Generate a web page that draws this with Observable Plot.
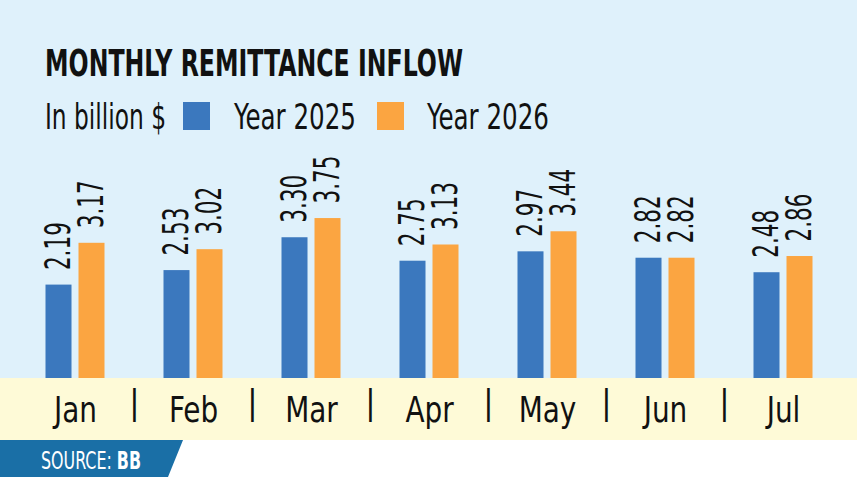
<!DOCTYPE html>
<html><head><meta charset="utf-8">
<script src="https://cdn.jsdelivr.net/npm/d3@7"></script>
<script src="https://cdn.jsdelivr.net/npm/@observablehq/plot@0.6"></script>
<style>
html,body{margin:0;padding:0;background:#fff;}
#page{position:relative;width:857px;height:482px;overflow:hidden;font-family:"Liberation Sans Narrow","DejaVu Sans Condensed","Liberation Sans",sans-serif;color:#111;}
.bg-blue{position:absolute;left:0;top:0;width:857px;height:378px;background:#dff1fb;}
.bg-cream{position:absolute;left:0;top:378px;width:857px;height:62px;background:#fefad7;}
.t{position:absolute;white-space:nowrap;line-height:1;transform-origin:0 50%;}
#title{left:45px;top:45px;font-size:37px;font-weight:bold;}
.leg{font-size:36px;top:98.5px;}
.sw{position:absolute;width:27px;height:28px;top:102px;}
#chart{position:absolute;left:0;top:140px;}
#src{position:absolute;left:0;top:440px;width:183px;height:37px;background:#1a6fa6;clip-path:polygon(0 0,183px 0,168px 37px,0 37px);}
#srctext{color:#fff;font-size:24px;left:41px;top:448.7px;}
</style>
</head>
<body>
<div id="page">
  <div class="bg-blue"></div>
  <div class="bg-cream"></div>
  <div id="title" class="t">MONTHLY REMITTANCE INFLOW</div>
  <div id="unit" class="t leg" style="left:45px">In billion $</div>
  <div id="sw0" class="sw" style="left:183px"></div>
  <div id="leg0" class="t leg" style="left:234px"></div>
  <div id="sw1" class="sw" style="left:377px"></div>
  <div id="leg1" class="t leg" style="left:427px"></div>
  <div id="chart"></div>
  <div id="src"></div>
  <div id="srctext" class="t">SOURCE: <b>BB</b></div>
</div>
<script>
const months = ["Jan","Feb","Mar","Apr","May","Jun","Jul"];
const years = ["Year 2025","Year 2026"];
const values2025 = [2.19,2.53,3.30,2.75,2.97,2.82,2.48];
const values2026 = [3.17,3.02,3.75,3.13,3.44,2.82,2.86];
const colors = ["#3b78be","#fba541"];

const data = months.flatMap((m, i) => [
  {month: m, year: years[0], value: values2025[i]},
  {month: m, year: years[1], value: values2026[i]}
]);

document.getElementById("leg0").textContent = years[0];
document.getElementById("leg1").textContent = years[1];
document.getElementById("sw0").style.background = colors[0];
document.getElementById("sw1").style.background = colors[1];

const font = '"Liberation Sans Narrow","DejaVu Sans Condensed","Liberation Sans",sans-serif';

const chart = Plot.plot({
  width: 857,
  height: 300,
  marginTop: 0,
  marginBottom: 62,
  marginLeft: 15.5,
  marginRight: 15.5,
  style: {background: "transparent", fontFamily: font, color: "#111"},
  fx: {domain: months, padding: 0},
  x: {domain: years, paddingInner: 0.2, paddingOuter: 0.84, axis: null},
  y: {domain: [0, 5.58], axis: null},
  color: {domain: years, range: colors},
  marks: [
    Plot.barY(data, {fx: "month", x: "year", y: "value", fill: "year"}),
    Plot.text(data, {fx: "month", x: "year", y: "value", text: d => d.value.toFixed(2),
      rotate: -90, textAnchor: "start", lineAnchor: "middle", dy: -15, fontSize: 35, fill: "#111"}),
    Plot.axisFx({anchor: "bottom", tickSize: 0, tickPadding: 18, fontSize: 36, label: null, fill: "#111"}),
    Plot.text(months.slice(0, -1), {fx: d => d, frameAnchor: "bottom-right", text: () => "|",
      textAnchor: "middle", lineAnchor: "middle", dy: 25, fontSize: 34, fill: "#111"})
  ]
});
document.getElementById("chart").appendChild(chart);

// horizontal condensing to mimic the narrow typeface of the reference
function fit(id, w) {
  const el = document.getElementById(id);
  const r = el.getBoundingClientRect().width;
  el.style.transform = `scaleX(${w / r})`;
}
fit("title", 418);
fit("unit", 121);
fit("leg0", 122);
fit("leg1", 122);
fit("srctext", 100);

const vals = Array.from(chart.querySelectorAll("text")).filter(t => (t.getAttribute("transform") || "").includes("rotate"));
if (vals.length) {
  const ref = vals.find(t => t.textContent === "3.75") || vals[0];
  const k = 48 / ref.getComputedTextLength();
  vals.forEach(t => t.setAttribute("transform", t.getAttribute("transform") + ` scale(${k},1)`));
}
const ticks = Array.from(chart.querySelectorAll('g[aria-label="fx-axis tick label"] text'));
if (ticks.length) {
  const ref = ticks.find(t => t.textContent === "Jan") || ticks[0];
  const k = 43 / ref.getComputedTextLength();
  ticks.forEach(t => t.setAttribute("transform", (t.getAttribute("transform") || "") + ` scale(${k},1)`));
}
</script>
</body></html>
